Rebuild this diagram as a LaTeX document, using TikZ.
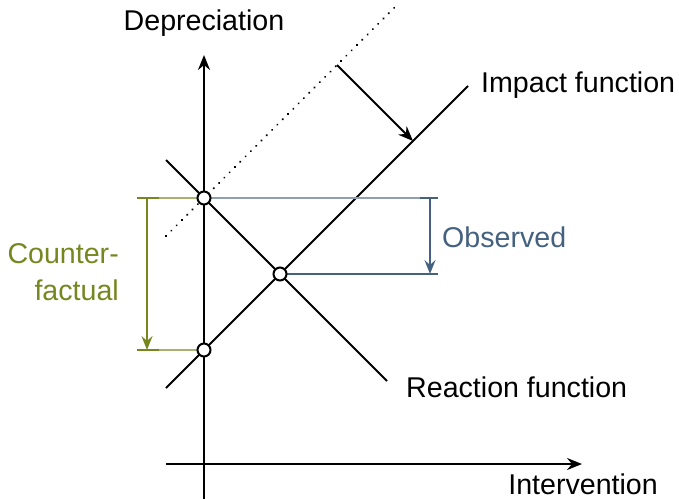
\documentclass[tikz,border=0pt]{standalone}
\usepackage{fontspec}
\setmainfont{Liberation Sans}
\usetikzlibrary{arrows.meta}
\definecolor{olive}{HTML}{76871F}
\definecolor{olivelight}{HTML}{A7B26E}
\definecolor{slate}{HTML}{44617F}
\definecolor{slatelight}{HTML}{8E9FB2}
\begin{document}
\begin{tikzpicture}[x=1pt,y=-1pt,
  every node/.style={font=\fontsize{28.6}{32}\selectfont, inner sep=0pt},
  ln/.style={line width=2pt, black},
  tip/.style={-{Stealth[length=15pt,width=12pt,inset=5pt]}},
  smalltip/.style={-{Stealth[length=14pt,width=11pt,inset=5pt]}},
  dot/.style={circle, draw=black, fill=white, line width=2pt, minimum size=13pt, inner sep=0pt},
  lbl/.style={text=black}]
\useasboundingbox (0,0) rectangle (679,499);
% coordinates
\coordinate (yb) at (204,499);
\coordinate (yt) at (204,55);
\coordinate (xl) at (166,464);
\coordinate (xr) at (582,464);
\coordinate (i1) at (166,388);
\coordinate (i2) at (468,86);
\coordinate (r1) at (166,160);
\coordinate (r2) at (387,381);
\coordinate (d1) at (166,236);
\coordinate (d2) at (395,7);
\coordinate (s1) at (337,65);
\coordinate (s2) at (413,141);
% axes
\draw[ln, tip] (yb) -- (yt);
\draw[ln, tip] (xl) -- (xr);
% lines
\draw[ln] (i1) -- (i2);
\draw[ln] (r1) -- (r2);
\draw[line width=2.2pt, line cap=round, dash pattern=on 0.1pt off 7.4pt] (d1) -- (d2);
\draw[ln, tip] (s1) -- (s2);
% observed
\coordinate (oa) at (438,198);
\coordinate (ob) at (438,274);
\coordinate (ot1) at (420,198);
\coordinate (ot2) at (420,274);
\coordinate (oa2) at (430,198);
\coordinate (ob2) at (430,274);
\draw[slatelight, line width=1.2pt] (210,198) -- (oa);
\draw[slate, line width=1.2pt] (286,274) -- (ob);
\draw[slate, line width=2pt] (ot1) -- (oa);
\draw[slate, line width=2pt] (ot2) -- (ob);
\draw[slate, line width=2pt, smalltip] (oa2) -- (ob2);
% counterfactual
\coordinate (ca) at (137,198);
\coordinate (cb) at (137,350);
\coordinate (ct1) at (159,198);
\coordinate (ct2) at (159,350);
\coordinate (ca2) at (147,198);
\coordinate (cb2) at (147,350);
\draw[olivelight, line width=1.5pt] (ca) -- (198,198);
\draw[olivelight, line width=1.5pt] (cb) -- (198,350);
\draw[olive, line width=2.5pt] (ca) -- (ct1);
\draw[olive, line width=2.5pt] (cb) -- (ct2);
\draw[olive, line width=2pt, smalltip] (ca2) -- (cb2);
% dots
\node[dot] (pA) at (204,198) {};
\node[dot] (pB) at (280,274) {};
\node[dot] (pC) at (204,350) {};
% labels
\node[anchor=base] (ldep) at (204,30) {Depreciation};
\node[anchor=base west] (limp) at (481,92) {Impact function};
\node[anchor=base west] (lrea) at (406,397) {Reaction function};
\node[anchor=base east] (lint) at (658,494) {Intervention};
\node[anchor=base west, text=slate] (lobs) at (442,247) {Observed};
\node[anchor=base east, text=olive] (lc1) at (119,263) {Counter-};
\node[anchor=base east, text=olive] (lc2) at (119,300) {factual};
\end{tikzpicture}
\end{document}
